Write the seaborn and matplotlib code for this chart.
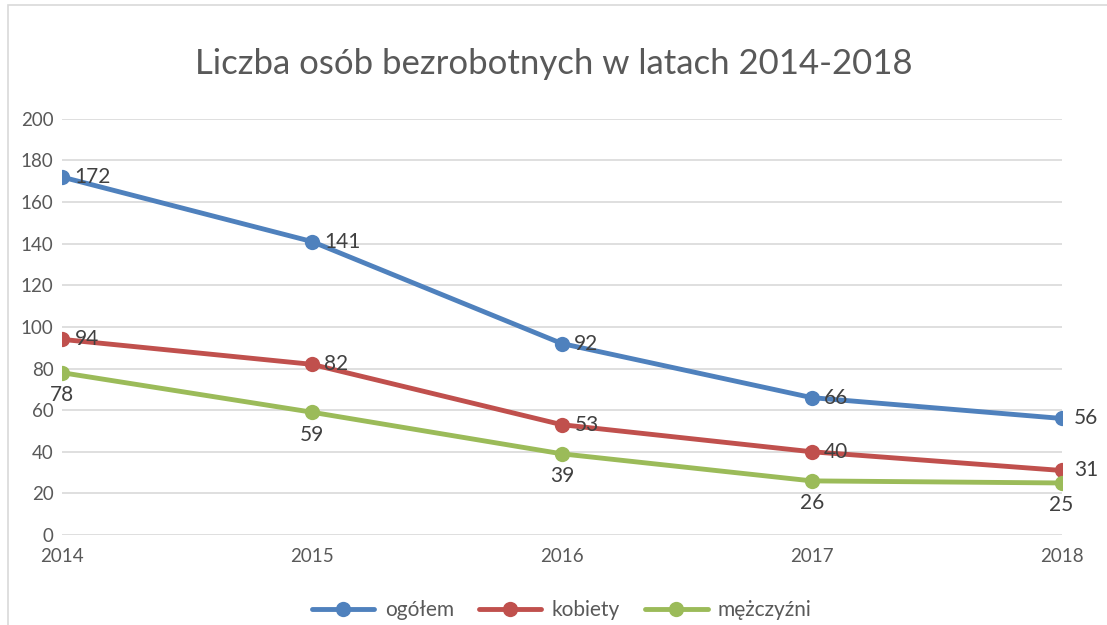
import matplotlib
matplotlib.use("Agg")
import matplotlib.pyplot as plt
import seaborn as sns
import pandas as pd
from matplotlib.patches import Rectangle

lata = [2014, 2015, 2016, 2017, 2018]
ogolem = [172, 141, 92, 66, 56]
kobiety = [94, 82, 53, 40, 31]
mezczyzni = [78, 59, 39, 26, 25]

serie = ["ogółem", "kobiety", "mężczyźni"]
kolory = ["#4F81BD", "#C0504D", "#9BBB59"]

df = pd.DataFrame({
    "rok": lata * 3,
    "liczba": ogolem + kobiety + mezczyzni,
    "seria": [s for s in serie for _ in lata],
})

sns.set_style("white")
plt.rcParams["font.family"] = ["Lato", "DejaVu Sans"]

fig = plt.figure(figsize=(11.07, 6.25), dpi=100)
ax = fig.add_axes([0.056, 0.144, 0.903, 0.666])

sns.lineplot(
    data=df, x="rok", y="liczba", hue="seria", hue_order=serie,
    palette=kolory, marker="o", markersize=11, linewidth=3.5,
    markeredgewidth=0, ax=ax, legend=True,
)

# etykiety danych
for x, y in zip(lata, ogolem):
    ax.annotate(str(y), (x, y), xytext=(9, 0), textcoords="offset points",
                ha="left", va="center", fontsize=15, color="#404040")
for x, y in zip(lata, kobiety):
    ax.annotate(str(y), (x, y), xytext=(9, 0), textcoords="offset points",
                ha="left", va="center", fontsize=15, color="#404040")
for x, y in zip(lata, mezczyzni):
    ax.annotate(str(y), (x, y), xytext=(0, -9), textcoords="offset points",
                ha="center", va="top", fontsize=15, color="#404040")

ax.set_xlim(2014, 2018)
ax.set_ylim(0, 200)
ax.set_xticks(lata)
ax.set_yticks(range(0, 201, 20))
ax.tick_params(axis="both", length=0, labelsize=13.5, labelcolor="#595959")
ax.tick_params(axis="y", pad=6)
ax.tick_params(axis="x", pad=9)
ax.yaxis.grid(True, color="#D9D9D9", linewidth=1.2)
ax.set_axisbelow(True)
for s in ax.spines.values():
    s.set_visible(False)
ax.set_xlabel("")
ax.set_ylabel("")

fig.text(0.5, 0.897, "Liczba osób bezrobotnych w latach 2014-2018",
         ha="center", va="center", fontsize=25, color="#595959")

ax.legend(loc="center", bbox_to_anchor=(0.5, -0.18), ncol=3, frameon=False,
          fontsize=15, labelcolor="#595959", handlelength=3.0, columnspacing=1.2,
          handletextpad=0.5)

fig.add_artist(Rectangle((0.007, -0.01), 1.1, 1.002, transform=fig.transFigure,
                         fill=False, edgecolor="#D9D9D9", linewidth=1.2))

fig.savefig("out.png", dpi=100)
